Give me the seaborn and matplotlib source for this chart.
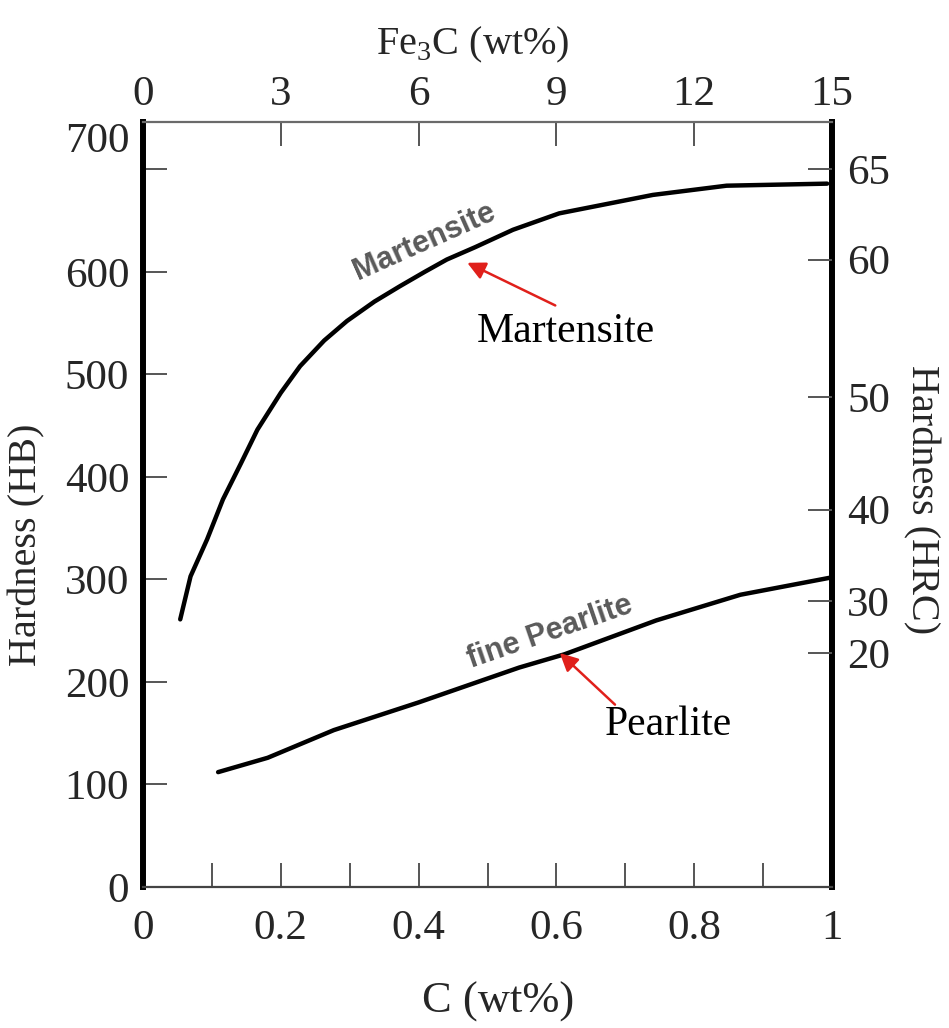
import numpy as np
import pandas as pd
import matplotlib
matplotlib.use("Agg")
import matplotlib.pyplot as plt
import matplotlib.transforms as mtrans
from matplotlib.ticker import FixedLocator
import seaborn as sns

# ---- data ----
carbon_martensite = [0.054, 0.069, 0.093, 0.116, 0.142, 0.166, 0.200, 0.228, 0.263, 0.296,
                     0.336, 0.373, 0.409, 0.441, 0.482, 0.537, 0.604, 0.740, 0.847, 0.993]
hb_martensite = [261, 303, 339, 378, 413, 446, 482, 508, 533, 552,
                 571, 586, 600, 612, 624, 641, 657, 675, 684, 686]
carbon_pearlite = [0.109, 0.181, 0.277, 0.400, 0.546, 0.612, 0.745, 0.867, 1.000]
hb_pearlite = [112, 126, 153, 180, 214, 227, 260, 285, 302]

hb_ticks = [0, 100, 200, 300, 400, 500, 600, 700]
hrc_labels = ["65", "60", "50", "40", "30", "20"]
hrc_as_hb = [700, 612, 478, 368, 279, 228]
c_ticks = [0, 0.2, 0.4, 0.6, 0.8, 1.0]
c_tick_labels = ["0", "0.2", "0.4", "0.6", "0.8", "1"]
c_minor = [0.1, 0.3, 0.5, 0.7, 0.9]
fe3c_ticks = [0, 3, 6, 9, 12, 15]

df = pd.concat([
    pd.DataFrame({"C": carbon_martensite, "HB": hb_martensite, "phase": "Martensite"}),
    pd.DataFrame({"C": carbon_pearlite, "HB": hb_pearlite, "phase": "Fine Pearlite"}),
])

sns.set_theme(style="white")
plt.rcParams["font.family"] = ["Liberation Serif", "DejaVu Serif"]

fig = plt.figure(figsize=(9.49, 10.28), dpi=100)
ax = fig.add_axes([0.1507, 0.1372, 0.726, 0.744])

sns.lineplot(data=df, x="C", y="HB", hue="phase",
             palette={"Martensite": "black", "Fine Pearlite": "black"},
             estimator=None, sort=False, legend=False, linewidth=3.2, ax=ax)

ax.set_xlim(0, 1)
ax.set_ylim(0, 746)

# spines
for side in ["left", "right"]:
    ax.spines[side].set_linewidth(4.3)
    ax.spines[side].set_color("black")
ax.spines["top"].set_linewidth(1.6)
ax.spines["top"].set_color("#6a6a6a")
ax.spines["bottom"].set_linewidth(1.6)
ax.spines["bottom"].set_color("#444444")

# bottom axis: C (wt%)
ax.xaxis.set_major_locator(FixedLocator(c_ticks))
ax.set_xticklabels(c_tick_labels)
ax.xaxis.set_minor_locator(FixedLocator(c_minor))
ax.tick_params(axis="x", which="both", direction="in", length=17, width=1.4,
               color="#555555", labelsize=31, pad=16, bottom=True, top=False)
ax.set_xlabel("C (wt%)", fontsize=32, labelpad=0)
ax.xaxis.set_label_coords(0.515, -0.124)

# left axis: HB
ax.yaxis.set_major_locator(FixedLocator(hb_ticks))
ax.set_yticklabels([str(v) for v in hb_ticks])
ax.tick_params(axis="y", direction="in", length=17, width=1.4, color="#555555",
               labelsize=31, pad=10, left=True, right=False)
ax.set_ylabel("Hardness (HB)", fontsize=29)
ax.yaxis.set_label_coords(-0.142, 0.447)

# shift the "700" label upward as in the reference
t700 = ax.yaxis.get_major_ticks()[-1].label1
t700.set_transform(t700.get_transform() + mtrans.ScaledTranslation(0, 0.32, fig.dpi_scale_trans))

# top axis: Fe3C (wt%)
secx = ax.secondary_xaxis("top", functions=(lambda c: np.asarray(c) * 15.0, lambda f: np.asarray(f) / 15.0))
secx.set_xticks(fe3c_ticks)
secx.set_xticklabels([str(v) for v in fe3c_ticks])
secx.tick_params(direction="in", length=17, width=1.4, color="#555555", labelsize=31, pad=6)
secx.spines["top"].set_visible(False)
fig.text(0.498, 0.956, r"Fe$_\mathregular{3}$C (wt%)", fontsize=29, ha="center", va="center")

# right axis: HRC
axr = ax.twinx()
axr.set_ylim(ax.get_ylim())
for s in axr.spines.values():
    s.set_visible(False)
axr.yaxis.set_major_locator(FixedLocator(hrc_as_hb))
axr.set_yticklabels(hrc_labels)
axr.tick_params(axis="y", direction="in", length=17, width=1.4, color="#555555",
                labelsize=31, pad=11, right=True, left=False)
axr.set_ylabel("Hardness (HRC)", fontsize=29, rotation=270)
axr.yaxis.set_label_coords(1.157, 0.506)
axr.grid(False)
ax.grid(False)

# in-figure curve names (scanned style)
ax.text(0.409, 629, "Martensite", rotation=24, fontsize=22, color="#5a5a5a",
        family="Liberation Sans", ha="center", va="center", fontweight="bold")
ax.text(0.591, 248, "fine Pearlite", rotation=19, fontsize=22, color="#5a5a5a",
        family="Liberation Sans", ha="center", va="center", fontweight="bold")

# red arrows with labels
ax.annotate("", xy=(0.467, 610), xytext=(0.602, 566),
            arrowprops=dict(arrowstyle="-|>,head_length=0.9,head_width=0.45", color="#e0201b", lw=1.8))
ax.text(0.614, 542, "Martensite", fontsize=30, ha="center", va="center", color="black")
ax.annotate("", xy=(0.602, 230), xytext=(0.688, 176),
            arrowprops=dict(arrowstyle="-|>,head_length=0.9,head_width=0.45", color="#e0201b", lw=1.8))
ax.text(0.763, 158, "Pearlite", fontsize=30, ha="center", va="center", color="black")

fig.savefig("out.png", dpi=100, facecolor="white")
